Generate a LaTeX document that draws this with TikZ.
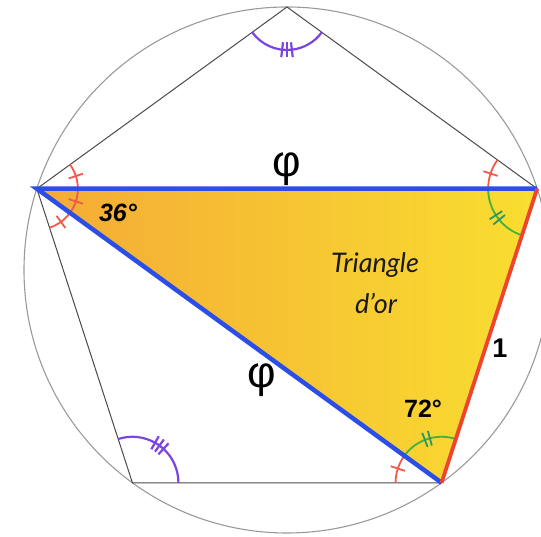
\documentclass[tikz,border=0pt]{standalone}
\usepackage{fontspec}
\setmainfont{Liberation Sans}
\newfontfamily\orfont{Lato}
\usetikzlibrary{calc}
\definecolor{goldorange}{HTML}{F4AA36}
\definecolor{goldyellow}{HTML}{F9DE30}
\definecolor{sideblue}{HTML}{2B4EE6}
\definecolor{sidered}{HTML}{EE4530}
\definecolor{markred}{HTML}{EF5A4A}
\definecolor{markgreen}{HTML}{47B03C}
\definecolor{tickgreen}{HTML}{2E9460}
\definecolor{markpurple}{HTML}{7A45E0}
\definecolor{pentagrey}{HTML}{4A4A4A}
\definecolor{circlegrey}{HTML}{9A9A9A}
\newcommand{\anglearc}[4]{% vertex, from, to, radius
  \draw ($(#1)+(#2:#4)$) arc[start angle=#2, end angle=#3, radius=#4];}
\newcommand{\angleticks}[4]{% vertex, angle, radius, count
  \pgfmathsetmacro\rin{#3-7.5}\pgfmathsetmacro\rout{#3+7.5}
  \foreach \k in {1,...,#4}{
    \pgfmathsetmacro\ta{#2+(\k-(#4+1)/2)*6.5}
    \draw ($(#1)+(\ta:\rin)$) -- ($(#1)+(\ta:\rout)$);
  }}

\begin{document}
\begin{tikzpicture}[x=1pt,y=1pt]
        \useasboundingbox (0,0) rectangle (541,537);
        \clip (0,0) rectangle (541,537);
        \coordinate (O) at (287,267);
        \coordinate (T) at ($(O)+(90:263)$);
        \coordinate (A) at ($(O)+(162:263)$);
        \coordinate (C) at ($(O)+(234:263)$);
        \coordinate (D) at ($(O)+(306:263)$);
        \coordinate (B) at ($(O)+(18:263)$);
        % triangle d'or
        \shade[left color=goldorange,right color=goldyellow] (A) -- (B) -- (D) -- cycle;
        \draw[circlegrey,line width=1.1pt] (O) circle (263);
        \draw[pentagrey,line width=1pt,line join=round] (T) -- (B) -- (D) -- (C) -- (A) -- cycle;
        % angle marks
        \begin{scope}[markred,line width=1.8pt]
          \anglearc{A}{-72}{36}{41}
          \angleticks{A}{18}{41}{1}
          \angleticks{A}{-18}{41}{1}
          \angleticks{A}{-54}{41}{1}
          \anglearc{B}{144}{180}{49}
          \angleticks{B}{162}{49}{1}
          \anglearc{D}{144}{180}{46}
          \angleticks{D}{162}{46}{1}
        \end{scope}
        \begin{scope}[markgreen,line width=1.8pt]
          \anglearc{B}{180}{252}{49}
          \anglearc{D}{72}{144}{46}
        \end{scope}
        \begin{scope}[tickgreen,line width=1.8pt]
          \angleticks{B}{216}{49}{2}
          \angleticks{D}{108}{46}{2}
        \end{scope}
        \begin{scope}[markpurple,line width=2.2pt]
          \anglearc{T}{216}{324}{43}
          \angleticks{T}{270}{43}{3}
          \anglearc{C}{0}{108}{46}
          \angleticks{C}{54}{46}{3}
        \end{scope}
        % sides
        \draw[sideblue,line width=4.5pt] (B) -- (A) -- (D);
        \draw[sidered,line width=3.8pt] (B) -- (D);
        % labels
        \node[font=\fontsize{44}{44}\selectfont] (phiAB) at (287,368) {φ};
        \node[font=\fontsize{44}{44}\selectfont] (phiAD) at (262,157) {φ};
        \node[font=\bfseries\itshape\fontsize{25}{25}\selectfont] (ang36) at (118,324) {36°};
        \node[font=\bfseries\fontsize{25}{25}\selectfont] (ang72) at (423,128) {72°};
        \node[font=\bfseries\fontsize{27}{27}\selectfont] (side1) at (500,189) {1};
        \node[font=\orfont\itshape\fontsize{27}{27}\selectfont,text=black!90] (nameA) at (375,272) {Triangle};
        \node[font=\orfont\itshape\fontsize{27}{27}\selectfont,text=black!90] (nameB) at (376,234) {d’or};
      \end{tikzpicture}
\end{document}
